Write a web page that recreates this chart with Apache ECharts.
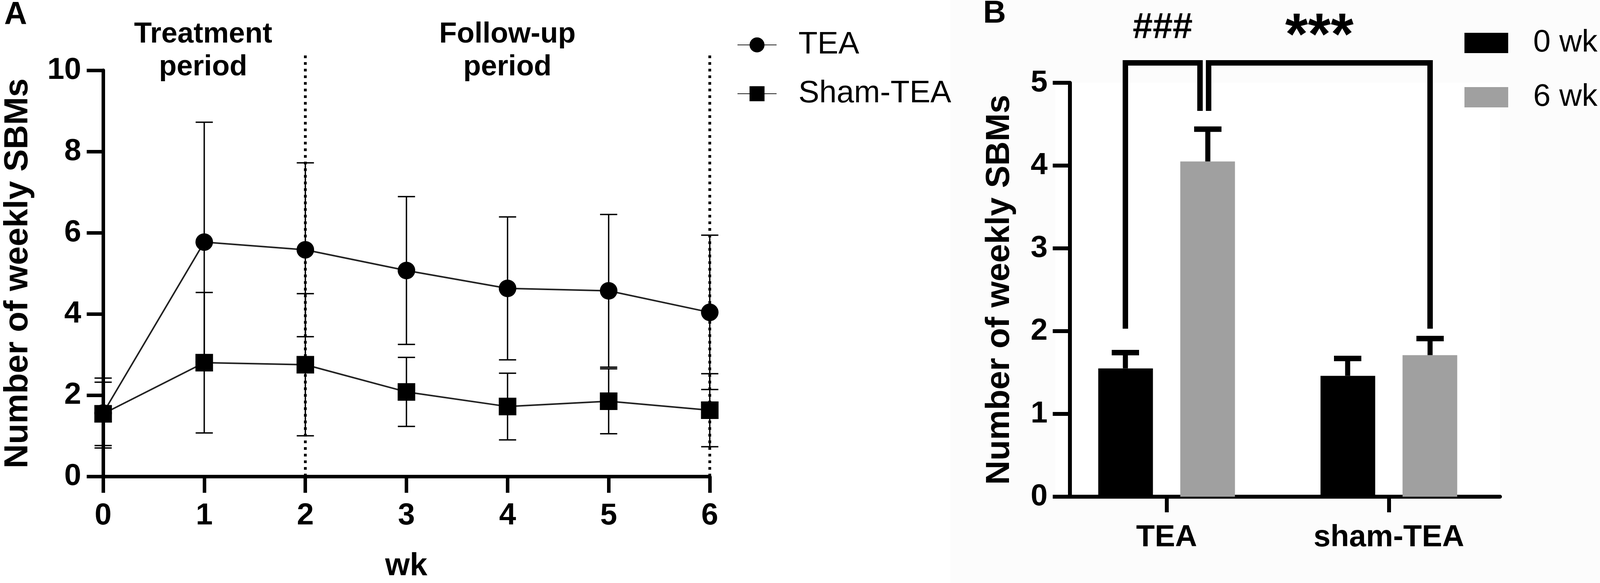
<!DOCTYPE html>
<html>
<head>
<meta charset="utf-8">
<script src="https://cdn.jsdelivr.net/npm/echarts@6/dist/echarts.min.js"></script>
<style>
  html, body { margin: 0; padding: 0; background: #fff; }
  #main { width: 4107px; height: 1493px; }
</style>
</head>
<body>
<div id="main"></div>
<script>
// panel A: weekly SBMs, mean and SD
var weeks = [0, 1, 2, 3, 4, 5, 6];
var teaMean = [1.56, 5.77, 5.58, 5.07, 4.63, 4.57, 4.04];
var teaSd = [0.86, 2.95, 2.14, 1.82, 1.76, 1.88, 1.90];
var shamMean = [1.54, 2.80, 2.75, 2.08, 1.72, 1.85, 1.63];
var shamSd = [0.78, 1.73, 1.75, 0.85, 0.82, 0.80, 0.90];
var yTicksA = [0, 2, 4, 6, 8, 10];
var periodEnds = [2, 6];
var dividerTop = 10.4;

// panel B: 0 wk vs 6 wk, mean and SEM
var groups = ['TEA', 'sham-TEA'];
var wk0Mean = [1.55, 1.46];
var wk0Err = [0.19, 0.21];
var wk6Mean = [4.05, 1.71];
var wk6Err = [0.39, 0.20];
var yTicksB = [0, 1, 2, 3, 4, 5];
// brackets: [category, bar] at each end
var bracketFrom = [[0, 0], [0, 1]];
var bracketTo = [[0, 1], [1, 1]];
var bracketLeftEnd = [2.03, 4.66];
var bracketRightEnd = [4.66, 2.03];
var bracketTop = 5.24;
var bracketMarks = ['###', '***'];

var FONT = 'Liberation Sans, Arial, Helvetica, sans-serif';
var BAR_SHIFT = 105.5; // half of barWidth + barGap
var markStyle = {
    '###': {fontSize: 92, lift: 89},
    '***': {fontSize: 150, lift: 63}
};

var myChart = echarts.init(document.getElementById('main'));

function pairs(xs, ys, es) {
    var out = [];
    for (var i = 0; i < xs.length; i++) {
        out.push(es ? [xs[i], ys[i], es[i]] : [xs[i], ys[i]]);
    }
    return out;
}

function labelStyle(margin) {
    return {margin: margin, fontSize: 78, fontWeight: 'bold', color: '#000', fontFamily: FONT};
}

//SD error bars for the line chart
function lineErr(params, api) {
    var x = api.value(0), m = api.value(1), sd = api.value(2);
    var hi = api.coord([x, m + sd]);
    var lo = api.coord([x, m - sd]);
    var st = {stroke: '#000', lineWidth: 3.5};
    return {
        type: 'group',
        children: [
            {type: 'line', shape: {x1: hi[0], y1: hi[1], x2: lo[0], y2: lo[1]}, style: st},
            {type: 'line', shape: {x1: hi[0] - 22, y1: hi[1], x2: hi[0] + 22, y2: hi[1]}, style: st},
            {type: 'line', shape: {x1: lo[0] - 22, y1: lo[1], x2: lo[0] + 22, y2: lo[1]}, style: st}
        ]
    };
}

//dotted lines closing each period
function divider(params, api) {
    var x = api.value(0);
    var p0 = api.coord([x, 0]);
    var p1 = api.coord([x, api.value(1)]);
    return {
        type: 'line',
        shape: {x1: p0[0], y1: p0[1], x2: p1[0], y2: p1[1]},
        style: {stroke: '#000', lineWidth: 7, lineDash: [7, 10]}
    };
}

//upper error bars on the bars
function barErr(side) {
    return function (params, api) {
        var c = api.value(0), m = api.value(1), e = api.value(2);
        var top = api.coord([c, m]);
        var cap = api.coord([c, m + e]);
        var x = top[0] + side * BAR_SHIFT;
        return {
            type: 'group',
            children: [
                {type: 'line', shape: {x1: x, y1: top[1], x2: x, y2: cap[1]}, style: {stroke: '#000', lineWidth: 13}},
                {type: 'line', shape: {x1: x - 35, y1: cap[1], x2: x + 35, y2: cap[1]}, style: {stroke: '#000', lineWidth: 14}}
            ]
        };
    };
}

function barX(api, end) {
    var p = api.coord([end[0], 0]);
    return p[0] + (end[1] === 0 ? -BAR_SHIFT : BAR_SHIFT);
}

//significance brackets
function bracketItem(params, api) {
    var i = params.dataIndex;
    var xl = barX(api, bracketFrom[i]);
    var xr = barX(api, bracketTo[i]);
    // two brackets meet on the same bar: split their legs
    if (i === 0) { xr -= 20; } else { xl += 2; }
    var yt = api.coord([0, bracketTop])[1];
    var yl = api.coord([0, bracketLeftEnd[i]])[1];
    var yr = api.coord([0, bracketRightEnd[i]])[1];
    var ms = markStyle[bracketMarks[i]];
    return {
        type: 'group',
        children: [
            {
                type: 'polyline',
                shape: {points: [[xl, yl], [xl, yt], [xr, yt], [xr, yr]]},
                style: {stroke: '#000', lineWidth: 14, fill: null, lineJoin: 'miter'}
            },
            {
                type: 'text',
                style: {
                    text: bracketMarks[i], x: (xl + xr) / 2, y: yt - ms.lift,
                    align: 'center', verticalAlign: 'middle',
                    fontSize: ms.fontSize, fontWeight: 'bold', fontFamily: FONT, fill: '#000'
                }
            }
        ]
    };
}

function boldText(text, x, y, size, extra) {
    var el = {
        type: 'text', x: x, y: y,
        style: {text: text, fontSize: size, fontWeight: 'bold', fontFamily: FONT, fill: '#000', align: 'center', verticalAlign: 'middle'}
    };
    if (extra) { for (var k in extra) { el[k] = extra[k]; } }
    return el;
}

var option = {
    animation: false,
    backgroundColor: '#fff',
    grid: [
        {left: 264, top: 180, width: 1553, height: 1040},
        {left: 2702, top: 212, width: 1138, height: 1060, show: true, backgroundColor: '#fff', borderWidth: 0}
    ],
    xAxis: [
        {
            gridIndex: 0, type: 'value', min: weeks[0], max: weeks[weeks.length - 1], interval: 1,
            axisLine: {show: true, lineStyle: {color: '#000', width: 9}},
            axisTick: {show: true, length: 42, lineStyle: {color: '#000', width: 9}},
            axisLabel: labelStyle(62),
            splitLine: {show: false}
        },
        {
            gridIndex: 1, type: 'category', data: groups,
            axisLine: {show: true, lineStyle: {color: '#000', width: 10}},
            axisTick: {show: true, alignWithLabel: true, length: 40, lineStyle: {color: '#000', width: 10}},
            axisLabel: labelStyle(66),
            splitLine: {show: false}
        }
    ],
    yAxis: [
        {
            gridIndex: 0, type: 'value', min: yTicksA[0], max: yTicksA[yTicksA.length - 1], interval: yTicksA[1] - yTicksA[0],
            axisLine: {show: true, lineStyle: {color: '#000', width: 9}},
            axisTick: {show: true, length: 42, lineStyle: {color: '#000', width: 9}},
            axisLabel: labelStyle(56),
            splitLine: {show: false}
        },
        {
            gridIndex: 1, type: 'value', min: yTicksB[0], max: yTicksB[yTicksB.length - 1], interval: yTicksB[1] - yTicksB[0],
            offset: -37,
            axisLine: {show: true, lineStyle: {color: '#000', width: 10}},
            axisTick: {show: true, length: 44, lineStyle: {color: '#000', width: 10}},
            axisLabel: labelStyle(57),
            splitLine: {show: false}
        }
    ],
    legend: [
        {
            data: ['TEA', 'Sham-TEA'], orient: 'vertical', left: 1882, top: 70,
            itemWidth: 100, itemHeight: 48, itemGap: 45, selectedMode: false,
            textStyle: {fontSize: 80, color: '#000', fontFamily: FONT, padding: [0, 0, 0, 51]}
        },
        {
            data: ['0 wk', '6 wk'], orient: 'vertical', left: 3744, top: 65, icon: 'rect',
            itemWidth: 112, itemHeight: 52, itemGap: 59, selectedMode: false,
            textStyle: {fontSize: 80, color: '#000', fontFamily: FONT, padding: [0, 0, 0, 59]}
        }
    ],
    graphic: [
        {type: 'rect', z: -10, shape: {x: 2433, y: 0, width: 1674, height: 1493}, style: {fill: '#fcfcfc'}},
        boldText('A', 40, 39, 81),
        boldText('B', 2546, 36, 81),
        boldText('Treatment', 520, 89, 74),
        boldText('period', 520, 173, 74),
        boldText('Follow-up', 1299, 89, 74),
        boldText('period', 1299, 173, 74),
        boldText('Number of weekly SBMs', 46, 700, 86, {rotation: Math.PI / 2}),
        boldText('Number of weekly SBMs', 2559, 742, 86, {rotation: Math.PI / 2}),
        boldText('wk', 1040, 1451, 81)
    ],
    series: [
        {
            name: 'TEA', type: 'line', xAxisIndex: 0, yAxisIndex: 0, clip: false, z: 4,
            data: pairs(weeks, teaMean),
            symbol: 'circle', symbolSize: 45,
            itemStyle: {color: '#000'},
            lineStyle: {color: '#222', width: 4}
        },
        {
            name: 'Sham-TEA', type: 'line', xAxisIndex: 0, yAxisIndex: 0, clip: false, z: 4,
            data: pairs(weeks, shamMean),
            symbol: 'rect', symbolSize: 45,
            itemStyle: {color: '#000'},
            lineStyle: {color: '#222', width: 4}
        },
        {type: 'custom', xAxisIndex: 0, yAxisIndex: 0, z: 3, silent: true, renderItem: lineErr, data: pairs(weeks, teaMean, teaSd)},
        {type: 'custom', xAxisIndex: 0, yAxisIndex: 0, z: 3, silent: true, renderItem: lineErr, data: pairs(weeks, shamMean, shamSd)},
        {
            type: 'custom', xAxisIndex: 0, yAxisIndex: 0, z: 3, silent: true, clip: false,
            renderItem: divider,
            data: periodEnds.map(function (x) { return [x, dividerTop]; })
        },
        {
            name: '0 wk', type: 'bar', xAxisIndex: 1, yAxisIndex: 1,
            barWidth: 140, barGap: '50%', data: wk0Mean,
            itemStyle: {color: '#000'}
        },
        {
            name: '6 wk', type: 'bar', xAxisIndex: 1, yAxisIndex: 1,
            barWidth: 140, barGap: '50%', data: wk6Mean,
            itemStyle: {color: '#a0a0a0'}
        },
        {type: 'custom', xAxisIndex: 1, yAxisIndex: 1, z: 5, silent: true, renderItem: barErr(-1), data: pairs([0, 1], wk0Mean, wk0Err)},
        {type: 'custom', xAxisIndex: 1, yAxisIndex: 1, z: 5, silent: true, renderItem: barErr(1), data: pairs([0, 1], wk6Mean, wk6Err)},
        {
            type: 'custom', xAxisIndex: 1, yAxisIndex: 1, z: 5, silent: true, clip: false,
            renderItem: bracketItem,
            data: bracketMarks.map(function (m, i) { return [i, bracketTop]; })
        }
    ]
};

myChart.setOption(option);
</script>
</body>
</html>
